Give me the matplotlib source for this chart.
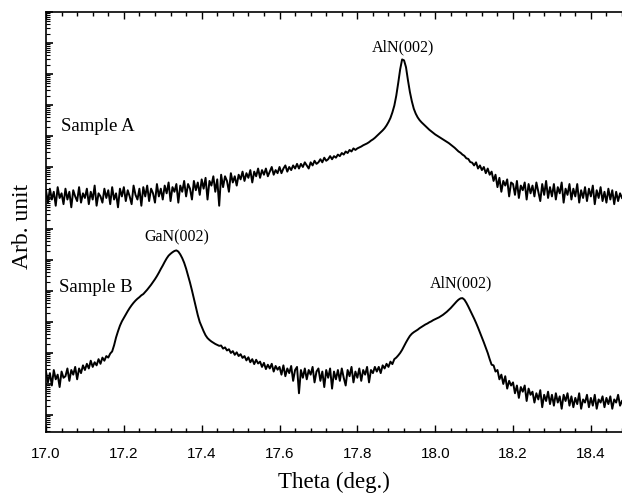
#!/usr/bin/env python3

import numpy as np
from matplotlib import pyplot as plt
from matplotlib.ticker import MultipleLocator, LogLocator, NullFormatter

# log10 intensity (arb.), sampled every 0.005 deg from 17.000 to 18.480
sample_a = [
    7.25, 6.85, 7.30, 6.95, 7.20, 6.75, 7.35, 7.00, 7.15, 6.80,
    7.30, 6.95, 7.20, 6.70, 7.25, 7.05, 6.90, 7.35, 6.85, 7.15,
    7.00, 7.30, 6.80, 7.20, 6.95, 7.40, 6.75, 7.15, 7.05, 6.85,
    7.30, 7.00, 7.25, 6.80, 7.35, 6.95, 7.15, 6.70, 7.30, 7.05,
    7.35, 6.90, 7.25, 7.05, 6.80, 7.40, 7.10, 6.95, 7.30, 6.75,
    7.35, 7.05, 7.40, 6.90, 7.30, 7.15, 6.85, 7.45, 7.05, 7.30,
    6.95, 7.40, 7.15, 7.50, 6.90, 7.35, 7.20, 7.45, 6.85, 7.40,
    7.20, 7.55, 7.05, 7.45, 7.30, 6.95, 7.55, 7.25, 7.50, 7.10,
    7.60, 7.30, 7.65, 6.95, 7.55, 7.40, 7.70, 7.20, 7.60, 6.75,
    7.75, 7.35, 7.70, 7.55, 7.20, 7.80, 7.50, 7.70, 7.40, 7.75,
    7.60, 7.85, 7.55, 7.80, 7.65, 7.90, 7.50, 7.85, 7.70, 7.95,
    7.65, 7.90, 7.75, 7.95, 7.70, 7.85, 8.00, 7.75, 7.90, 7.80,
    8.00, 7.80, 7.95, 8.05, 7.85, 8.00, 7.90, 8.05, 7.95, 8.10,
    7.95, 8.10, 8.00, 8.15, 8.05, 7.95, 8.15, 8.05, 8.20, 8.10,
    8.15, 8.25, 8.15, 8.30, 8.20, 8.25, 8.35, 8.25, 8.35, 8.30,
    8.40, 8.35, 8.45, 8.40, 8.50, 8.45, 8.55, 8.50, 8.60, 8.55,
    8.60, 8.63, 8.66, 8.70, 8.73, 8.76, 8.80, 8.85, 8.89, 8.94,
    9.00, 9.06, 9.12, 9.18, 9.25, 9.34, 9.45, 9.58, 9.76, 9.98,
    10.30, 10.71, 11.15, 11.47, 11.44, 11.22, 10.80, 10.42, 10.12, 9.88,
    9.72, 9.60, 9.51, 9.44, 9.38, 9.32, 9.26, 9.20, 9.15, 9.10,
    9.05, 9.01, 8.97, 8.93, 8.89, 8.85, 8.81, 8.77, 8.72, 8.67,
    8.62, 8.56, 8.50, 8.46, 8.40, 8.36, 8.28, 8.26, 8.16, 8.14,
    8.05, 8.15, 7.95, 8.05, 7.90, 8.00, 7.80, 7.95, 7.75, 7.85,
    7.55, 7.75, 7.35, 7.65, 7.20, 7.55, 7.40, 7.60, 7.05, 7.50,
    7.45, 7.10, 7.55, 7.00, 7.40, 7.25, 7.50, 6.95, 7.45, 7.15,
    7.40, 7.05, 7.50, 7.20, 6.90, 7.45, 7.10, 7.55, 7.00, 7.35,
    7.05, 7.45, 6.95, 7.35, 7.15, 7.50, 6.85, 7.30, 7.10, 7.45,
    6.95, 7.30, 7.05, 7.45, 6.85, 7.25, 7.00, 7.35, 6.90, 7.30,
    7.05, 7.40, 6.80, 7.25, 7.00, 7.35, 6.90, 7.20, 6.85, 7.30,
    6.95, 7.25, 6.80, 7.20, 6.90, 7.15, 7.00,
]

sample_b = [
    1.40, 1.05, 1.35, 0.95, 1.45, 1.15, 1.30, 0.90, 1.40, 1.20,
    1.25, 1.50, 1.10, 1.45, 1.30, 1.55, 1.15, 1.50, 1.35, 1.60,
    1.45, 1.65, 1.50, 1.75, 1.55, 1.70, 1.60, 1.80, 1.65, 1.85,
    1.75, 1.90, 1.85, 1.98, 2.05, 2.25, 2.50, 2.70, 2.88, 3.02,
    3.13, 3.24, 3.35, 3.45, 3.54, 3.62, 3.69, 3.75, 3.80, 3.86,
    3.90, 3.97, 4.04, 4.12, 4.20, 4.29, 4.38, 4.48, 4.59, 4.71,
    4.82, 4.94, 5.05, 5.14, 5.20, 5.25, 5.29, 5.31, 5.27, 5.18,
    5.06, 4.91, 4.72, 4.50, 4.27, 4.02, 3.75, 3.48, 3.22, 3.00,
    2.85, 2.70, 2.57, 2.48, 2.42, 2.37, 2.33, 2.29, 2.26, 2.23,
    2.24, 2.14, 2.18, 2.08, 2.12, 2.00, 2.06, 1.94, 2.02, 1.90,
    1.96, 1.84, 1.90, 1.76, 1.86, 1.70, 1.80, 1.64, 1.78, 1.66,
    1.72, 1.55, 1.68, 1.48, 1.62, 1.50, 1.65, 1.40, 1.58, 1.46,
    1.55, 1.30, 1.60, 1.25, 1.50, 1.35, 1.58, 1.10, 1.45, 1.55,
    0.70, 1.45, 1.20, 1.50, 1.15, 1.45, 1.30, 1.55, 1.05, 1.40,
    1.50, 1.10, 1.40, 0.90, 1.45, 1.20, 1.50, 0.85, 1.40, 1.15,
    1.45, 1.10, 1.50, 1.20, 0.95, 1.45, 1.25, 1.55, 1.05, 1.40,
    1.20, 1.50, 1.10, 1.45, 1.30, 1.55, 1.05, 1.45, 1.35, 1.55,
    1.40, 1.55, 1.35, 1.60, 1.50, 1.65, 1.55, 1.72, 1.64, 1.80,
    1.85, 1.92, 2.00, 2.10, 2.22, 2.34, 2.45, 2.55, 2.62, 2.67,
    2.71, 2.75, 2.80, 2.84, 2.88, 2.92, 2.95, 2.99, 3.02, 3.06,
    3.09, 3.12, 3.15, 3.19, 3.23, 3.28, 3.33, 3.39, 3.45, 3.52,
    3.59, 3.66, 3.72, 3.76, 3.77, 3.72, 3.62, 3.50, 3.37, 3.24,
    3.11, 2.97, 2.82, 2.66, 2.50, 2.34, 2.17, 2.00, 1.80, 1.62,
    1.60, 1.40, 1.45, 1.15, 1.30, 1.00, 1.25, 0.85, 1.10, 0.95,
    1.05, 0.70, 0.95, 0.55, 0.90, 0.75, 0.95, 0.45, 0.85, 0.65,
    0.75, 0.40, 0.70, 0.50, 0.80, 0.25, 0.65, 0.45, 0.75, 0.35,
    0.65, 0.30, 0.70, 0.40, 0.60, 0.20, 0.65, 0.45, 0.70, 0.30,
    0.60, 0.25, 0.55, 0.35, 0.70, 0.20, 0.50, 0.40, 0.65, 0.25,
    0.55, 0.30, 0.65, 0.20, 0.50, 0.40, 0.60, 0.25, 0.55, 0.35,
    0.60, 0.20, 0.50, 0.40, 0.65, 0.30, 0.45,
]

theta_a = np.linspace(17.0, 18.48, len(sample_a))
theta_b = np.linspace(17.0, 18.48, len(sample_b))

# peak labels: (theta, log10 intensity, text)
peak_labels = [(17.917, 11.87, "AlN(002)"), (17.337, 5.74, "GaN(002)"), (18.067, 4.26, "AlN(002)")]
sample_labels = [(17.038, 9.32, "Sample A"), (17.033, 4.10, "Sample B")]

serif = "Liberation Serif"

fig = plt.figure(figsize=(6.22, 4.96), dpi=100)
ax = fig.add_axes([46 / 622, 64 / 496, 1 - 46 / 622, 420 / 496])

ax.plot(theta_a, 10 ** np.array(sample_a), color="black", lw=1.4)
ax.plot(theta_b, 10 ** np.array(sample_b), color="black", lw=1.4)

for x, y, s in peak_labels:
    ax.text(x, 10 ** y, s, family=serif, fontsize=11.5, ha="center", va="center")
for x, y, s in sample_labels:
    ax.text(x, 10 ** y, s, family=serif, fontsize=13.5, ha="left", va="center")

ax.set_yscale("log")
ax.set_xlim(17.0, 18.48)
ax.set_ylim(10 ** -0.55, 10 ** 13.0)

ax.xaxis.set_major_locator(MultipleLocator(0.2))
ax.xaxis.set_minor_locator(MultipleLocator(0.04))
ax.yaxis.set_major_locator(LogLocator(base=10, numticks=100))
ax.yaxis.set_minor_locator(LogLocator(base=10, subs=np.arange(2, 10), numticks=100))
ax.yaxis.set_major_formatter(NullFormatter())
ax.yaxis.set_minor_formatter(NullFormatter())

ax.tick_params(axis="x", which="both", direction="in", top=True, bottom=True)
ax.tick_params(axis="x", which="major", length=5, width=1, pad=11, labelsize=11)
ax.tick_params(axis="x", which="minor", length=3, width=1)
ax.tick_params(axis="y", which="both", direction="in", left=True, right=False)
ax.tick_params(axis="y", which="major", length=5, width=1.2)
ax.tick_params(axis="y", which="minor", length=3, width=0.8)
for lab in ax.get_xticklabels():
    lab.set_family("Liberation Sans")

ax.spines["right"].set_visible(False)
for side in ("left", "top", "bottom"):
    ax.spines[side].set_linewidth(1.2)

ax.set_xlabel("Theta (deg.)", family=serif, fontsize=16.5, va="center")
ax.xaxis.set_label_coords(0.5, -0.121)
ax.set_ylabel("Arb. unit", family=serif, fontsize=17, va="center")
ax.yaxis.set_label_coords(-0.04, 0.49)

plt.savefig("out.png", dpi=100)
